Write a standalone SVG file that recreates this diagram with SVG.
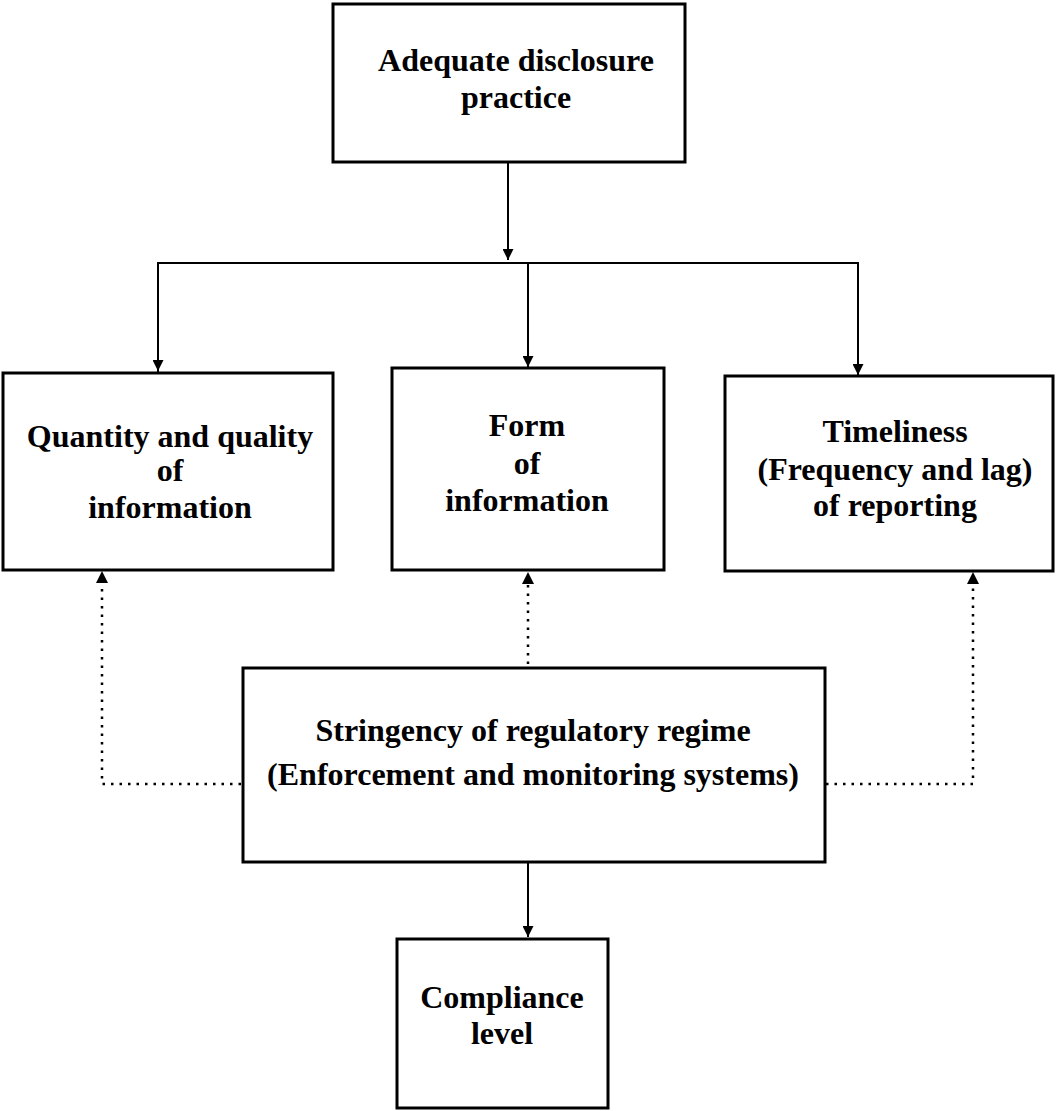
<svg xmlns="http://www.w3.org/2000/svg" width="1058" height="1111" viewBox="0 0 1058 1111">
<style>
.box{fill:#fff;stroke:#000;stroke-width:3}
.t{font-family:"Liberation Serif","Times New Roman",serif;font-weight:bold;font-size:32px;text-anchor:middle;fill:#000}
.c{fill:none;stroke:#000;stroke-width:2}
.d{fill:none;stroke:#000;stroke-width:2.5;stroke-dasharray:2.5 6}
</style>
<defs>
<marker id="ah" viewBox="0 0 10 10" refX="10" refY="5" markerWidth="12" markerHeight="11" markerUnits="userSpaceOnUse" orient="auto">
<path d="M0,0 L10,5 L0,10 Z" fill="#000"/>
</marker>
</defs>
<rect width="1058" height="1111" fill="#fff"/>
<g id="connectors">
<line class="c" x1="508" y1="163" x2="508" y2="260" marker-end="url(#ah)"/>
<polyline class="c" points="158,372 158,263 858,263 858,376"/>
<line class="c" x1="158" y1="263" x2="158" y2="371" marker-end="url(#ah)"/>
<line class="c" x1="528" y1="263" x2="528" y2="367" marker-end="url(#ah)"/>
<line class="c" x1="858" y1="263" x2="858" y2="375" marker-end="url(#ah)"/>
<polyline class="d" points="241,784 102,784 102,583"/>
<path d="M96,583 L102,571 L108,583 Z" fill="#000"/>
<line class="d" x1="528" y1="664" x2="528" y2="584"/>
<path d="M522,584 L528,572 L534,584 Z" fill="#000"/>
<polyline class="d" points="826,784 973,784 973,584"/>
<path d="M967,584 L973,572 L979,584 Z" fill="#000"/>
<line class="c" x1="528" y1="862" x2="528" y2="937" marker-end="url(#ah)"/>
</g>
<g id="n-adequate">
<rect class="box" x="333" y="4" width="352" height="158"/>
<text class="t" x="516" y="71">Adequate disclosure</text>
<text class="t" x="516" y="108">practice</text>
</g>
<g id="n-quantity">
<rect class="box" x="3" y="373" width="330" height="197"/>
<text class="t" x="170" y="447">Quantity and quality</text>
<text class="t" x="170" y="481">of</text>
<text class="t" x="170" y="518">information</text>
</g>
<g id="n-form">
<rect class="box" x="392" y="368" width="272" height="202"/>
<text class="t" x="527" y="436">Form</text>
<text class="t" x="527" y="474">of</text>
<text class="t" x="527" y="511">information</text>
</g>
<g id="n-timeliness">
<rect class="box" x="725" y="376" width="328" height="195"/>
<text class="t" x="895" y="442">Timeliness</text>
<text class="t" x="895" y="480">(Frequency and lag)</text>
<text class="t" x="895" y="516">of reporting</text>
</g>
<g id="n-stringency">
<rect class="box" x="243" y="668" width="582" height="194"/>
<text class="t" x="533" y="741">Stringency of regulatory regime</text>
<text class="t" x="533" y="785">(Enforcement and monitoring systems)</text>
</g>
<g id="n-compliance">
<rect class="box" x="397" y="939" width="211" height="169"/>
<text class="t" x="502" y="1008">Compliance</text>
<text class="t" x="502" y="1044">level</text>
</g>
</svg>
